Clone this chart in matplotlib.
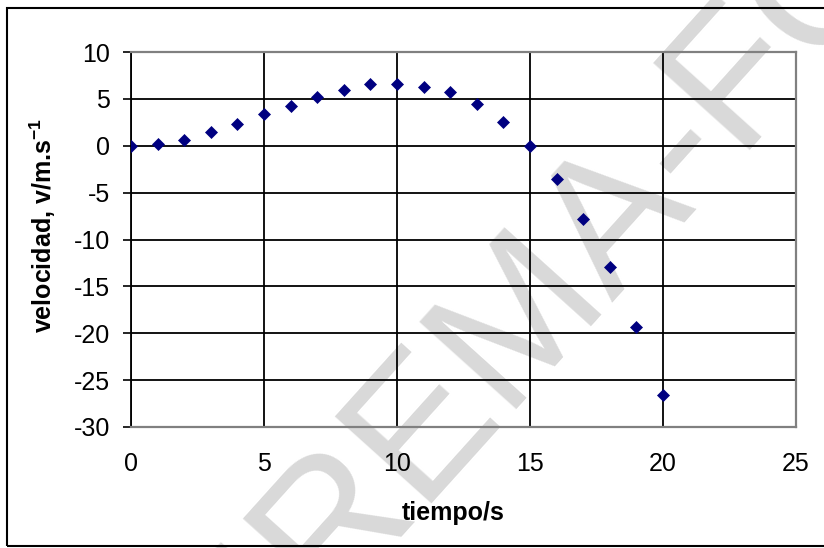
import matplotlib
matplotlib.use("Agg")
import matplotlib.pyplot as plt
from matplotlib.patches import Rectangle

plt.rcParams["font.family"] = ["Liberation Sans", "DejaVu Sans"]
plt.rcParams["mathtext.default"] = "regular"
plt.rcParams["axes.unicode_minus"] = False

# datos
tiempo = [0, 1, 2, 3, 4, 5, 6, 7, 8, 9, 10,
          11, 12, 13, 14, 15, 16, 17, 18, 19, 20]
velocidad = [0.0, 0.17, 0.58, 1.44, 2.3, 3.35, 4.2, 5.25, 5.9, 6.55, 6.55,
             6.3, 5.7, 4.43, 2.49, 0.0, -3.5, -7.8, -12.9, -19.3, -26.6]

x_ticks = [0, 5, 10, 15, 20, 25]
y_ticks = [10, 5, 0, -5, -10, -15, -20, -25, -30]

W, H = 824, 548
fig = plt.figure(figsize=(W / 100, H / 100), dpi=100)
fig.patch.set_facecolor("white")

# marco del area de grafico
fig.patches.append(Rectangle((7 / W, 2 / H), 1.2, (546 - 8) / H,
                             transform=fig.transFigure, fill=False,
                             edgecolor="black", lw=1.5))

# marca de agua
fig.text(289 / W, -95 / H, "IREMA-FO", fontsize=137, color="#d9d9d9",
         rotation=48, rotation_mode="anchor", ha="left", va="baseline",
         zorder=-1)

ax = fig.add_axes([131 / W, 1 - 427 / H, (796 - 131) / W, (427 - 52) / H])
ax.set_facecolor("none")

ax.plot(tiempo, velocidad, linestyle="none", marker="D", ms=6.3,
        color="#000080", mec="#000080", mew=0.5, zorder=3)

ax.set_xlim(0, 25)
ax.set_ylim(-30, 10)
ax.set_xticks(x_ticks)
ax.set_yticks(y_ticks)

ax.set_axisbelow(True)
ax.grid(True, color="black", lw=1.3)

for side in ["top", "right", "bottom"]:
    ax.spines[side].set_color("#808080")
    ax.spines[side].set_linewidth(1.6)
ax.spines["left"].set_color("black")
ax.spines["left"].set_linewidth(1.3)

ax.tick_params(axis="x", length=0, pad=18, labelsize=18)
ax.tick_params(axis="y", length=6, width=1.2, direction="out", pad=9,
               labelsize=18)

ax.set_xlabel("tiempo/s", fontsize=18, fontweight="bold")
ax.xaxis.set_label_coords((453 - 131) / 665, (427 - 501) / 375)
ax.set_ylabel("velocidad, v/m.s$^{-1}$", fontsize=18, fontweight="bold")
ax.yaxis.set_label_coords((58 - 131) / 665, (427 - 226) / 375)

fig.savefig("out.png", dpi=100)
plt.close(fig)
